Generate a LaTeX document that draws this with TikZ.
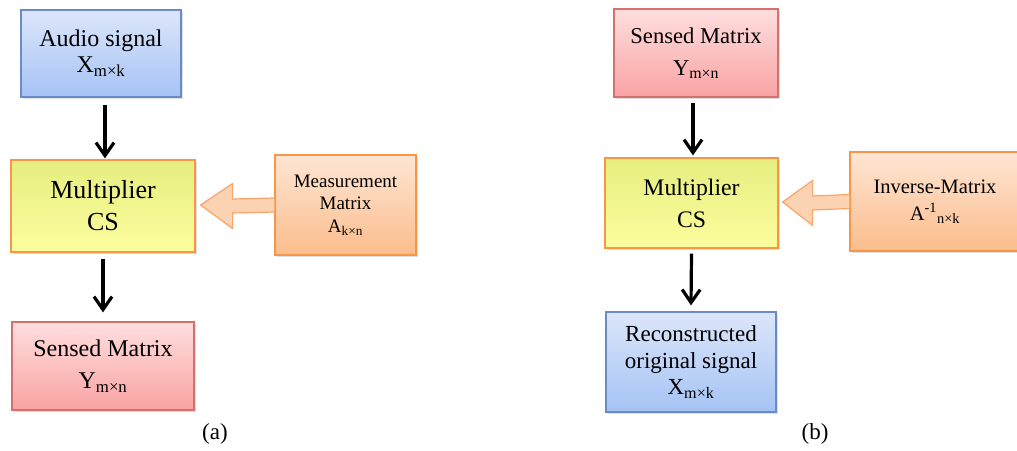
\documentclass[tikz,border=0pt]{standalone}
\usepackage{fontspec}
\setmainfont{Liberation Serif}
\usetikzlibrary{arrows.meta,calc,shadows}
\definecolor{bluetop}{HTML}{DCE6FA}
\definecolor{bluebot}{HTML}{A5C3F5}
\definecolor{blueline}{HTML}{6A8CC4}
\definecolor{yeltop}{HTML}{E5EE80}
\definecolor{yelbot}{HTML}{FDFD9E}
\definecolor{orline}{HTML}{F79646}
\definecolor{redtop}{HTML}{FFDEDE}
\definecolor{redbot}{HTML}{F9A3A3}
\definecolor{redline}{HTML}{D4716E}
\definecolor{ortop}{HTML}{FEE5D3}
\definecolor{orbot}{HTML}{FBBD8C}
\definecolor{arrfill}{HTML}{FCD3B2}
\definecolor{arrline}{HTML}{F8A468}
\newcommand{\sz}[2]{\fontsize{#1}{#2}\selectfont}
\tikzset{
  box/.style={draw, line width=1.2pt, align=center, text=black, inner sep=0pt,
    drop shadow={shadow xshift=1.5pt, shadow yshift=-1.5pt, opacity=0.25}},
  bluebox/.style={box, draw=blueline, top color=bluetop, bottom color=bluebot},
  yelbox/.style={box, draw=orline, top color=yeltop, bottom color=yelbot},
  redbox/.style={box, draw=redline, top color=redtop, bottom color=redbot},
  orbox/.style={box, draw=orline, top color=ortop, bottom color=orbot},
  flow/.style={line width=3.2pt, -{Straight Barb[length=13pt, width=18pt, line width=3.2pt]}},
  blockarrow/.style={draw=arrline, fill=arrfill, line width=1.2pt, line join=miter},
  caption/.style={font=\sz{23}{26}}
}
\begin{document}
\begin{tikzpicture}[x=1pt,y=-1pt]
\useasboundingbox (0,0) rectangle (1017,450);
% ---------- panel (a) ----------
\node[bluebox, minimum width=160pt, minimum height=87pt, font=\sz{24}{26}] (audio) at (101,53.5)
  {Audio signal\\X\textsubscript{m×k}};
\node[yelbox, minimum width=184pt, minimum height=92pt, font=\sz{26}{32}] (mult1) at (103,206)
  {Multiplier\\CS};
\node[redbox, minimum width=182pt, minimum height=88pt, font=\sz{24}{32}] (sens1) at (103,366)
  {Sensed Matrix\\Y\textsubscript{m×n}};
\node[orbox, minimum width=141pt, minimum height=100pt, font=\sz{19}{22.5}] (meas) at (345.5,205)
  {Measurement\\Matrix\\A\textsubscript{k×n}};
\draw[blockarrow]
  ($(meas.west)+(0,-7)$) -- ($(mult1.east)+(37,-7)$) -- ($(mult1.east)+(37,-22.5)$)
  -- ($(mult1.east)+(5,-1)$) -- ($(mult1.east)+(37,22.5)$) -- ($(mult1.east)+(37,7)$)
  -- ($(meas.west)+(0,7)$);
\draw[flow] ($(audio.south)+(4,7)$) -- ($(mult1.north)+(2,-1)$);
\draw[flow] ($(mult1.south)+(0,6)$) -- ($(sens1.north)+(0,-9)$);
\node[caption] (capa) at (215,434) {(a)};
% ---------- panel (b) ----------
\node[redbox, minimum width=164pt, minimum height=88pt, font=\sz{22.6}{32}] (sens2) at (696,53)
  {Sensed Matrix\\Y\textsubscript{m×n}};
\node[yelbox, minimum width=173pt, minimum height=90pt, font=\sz{23.7}{32}] (mult2) at (691.5,203)
  {Multiplier\\CS};
\node[bluebox, minimum width=170pt, minimum height=100pt, font=\sz{23}{26.5}] (rec) at (691,362)
  {Reconstructed\\original signal\\X\textsubscript{m×k}};
\node[orbox, minimum width=170pt, minimum height=99pt, font=\sz{20.5}{27}] (inv) at (935,201.5)
  {Inverse-Matrix\\A\textsuperscript{-1}\textsubscript{n×k}};
\draw[blockarrow]
  ($(inv.west)+(0,-7)$) -- ($(mult2.east)+(34,-7)$) -- ($(mult2.east)+(34,-22.5)$)
  -- ($(mult2.east)+(4,-1)$) -- ($(mult2.east)+(34,22.5)$) -- ($(mult2.east)+(34,7)$)
  -- ($(inv.west)+(0,7)$);
\draw[flow] ($(sens2.south)+(-3,5)$) -- ($(mult2.north)+(1.5,-2)$);
\draw[flow] ($(mult2.south)+(0,5)$) -- ($(rec.north)+(0,-6)$);
\node[caption] (capb) at (815,434) {(b)};
\end{tikzpicture}
\end{document}
